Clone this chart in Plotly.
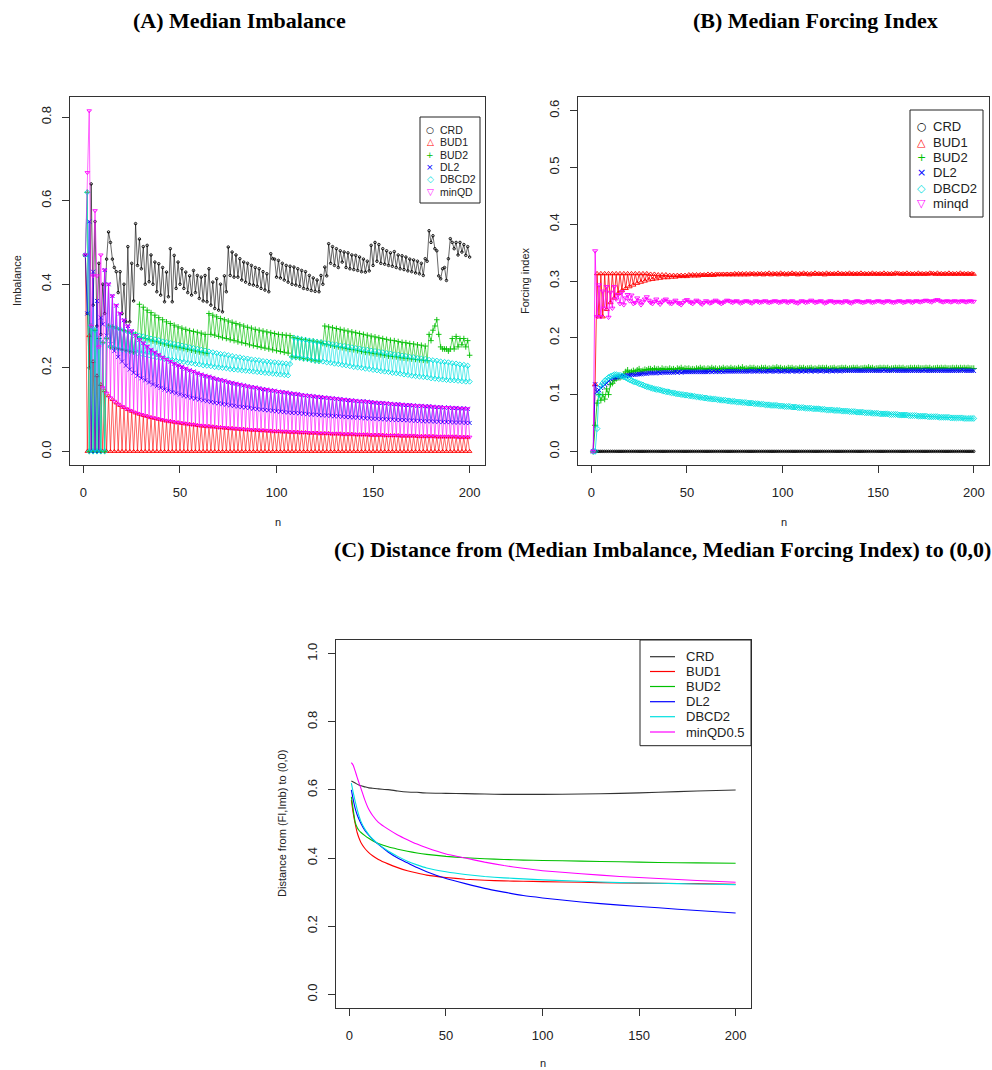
import plotly.graph_objects as go

W, H = 992, 1070

# ============ DATA ============
N_A = list(range(1, 201))
N_B = list(range(1, 201))

# ---- Panel A : Median Imbalance, values split into odd n (1,3,..,199) and even n (2,..,200)
A_CRD_ODD = [
    .470, .200, .350, .300, .280, .330, .525, .460, .430, .430,
    .400, .490, .450, .545, .508, .490, .493, .470, .453, .449,
    .440, .429, .485, .469, .453, .437, .429, .420, .433, .421,
    .417, .421, .437, .405, .413, .400, .420, .489, .477, .470,
    .461, .453, .450, .445, .440, .437, .430, .425, .473, .460,
    .457, .450, .445, .443, .441, .437, .433, .430, .421, .415,
    .410, .421, .441, .497, .490, .485, .480, .477, .475, .470,
    .469, .465, .460, .455, .493, .500, .495, .485, .480, .475,
    .478, .470, .468, .465, .460, .458, .455, .450, .461, .528,
    .516, .480, .413, .440, .461, .500, .500, .500, .495, .490]
A_CRD_EVEN = [
    .330, .640, .550, .450, .400, .460, .500, .440, .380, .330,
    .310, .310, .360, .445, .437, .400, .406, .400, .382, .374,
    .358, .370, .358, .390, .400, .390, .380, .374, .380, .366,
    .360, .358, .350, .342, .338, .334, .382, .421, .417, .417,
    .410, .405, .400, .398, .395, .390, .386, .382, .461, .417,
    .415, .410, .405, .400, .398, .395, .390, .388, .385, .383,
    .382, .400, .420, .450, .445, .440, .453, .440, .437, .435,
    .433, .430, .429, .432, .445, .455, .450, .448, .445, .443,
    .440, .437, .435, .432, .430, .427, .425, .421, .455, .500,
    .485, .420, .437, .409, .509, .485, .470, .477, .469, .465]

# shared imbalance levels seen as thick bands (|D|=1,2,3 levels)
LVL_D1_ODD = [
    .480, .277, .215, .181, .160, .145, .133, .124, .116, .110,
    .105, .100, .096, .092, .089, .086, .084, .081, .079, .077,
    .075, .073, .072, .070, .069, .067, .066, .065, .064, .062,
    .061, .060, .060, .059, .058, .057, .056, .055, .055, .054,
    .053, .053, .052, .051, .051, .050, .050, .049, .049, .048,
    .048, .047, .047, .046, .046, .046, .045, .045, .044, .044,
    .044, .043, .043, .043, .042, .042, .042, .041, .041, .041,
    .040, .040, .040, .040, .039, .039, .039, .039, .038, .038,
    .038, .038, .037, .037, .037, .037, .036, .036, .036, .036,
    .036, .035, .035, .035, .035, .035, .035, .034, .034, .034]
LVL_D1_EVEN = [
    .339, .240, .196, .170, .152, .139, .128, .120, .113, .107,
    .102, .098, .094, .091, .088, .085, .082, .080, .078, .076,
    .074, .072, .071, .069, .068, .067, .065, .064, .063, .062,
    .061, .060, .059, .058, .057, .057, .056, .055, .054, .054,
    .053, .052, .052, .051, .051, .050, .050, .049, .048, .048,
    .048, .047, .047, .046, .046, .045, .045, .045, .044, .044,
    .043, .043, .043, .042, .042, .042, .041, .041, .041, .041,
    .040, .040, .040, .039, .039, .039, .039, .038, .038, .038,
    .038, .037, .037, .037, .037, .037, .036, .036, .036, .036,
    .036, .035, .035, .035, .035, .035, .034, .034, .034, .034]
LVL_D2_EVEN = [
    .679, .480, .392, .339, .304, .277, .257, .240, .226, .215,
    .205, .196, .188, .181, .175, .170, .165, .160, .156, .152,
    .148, .145, .142, .139, .136, .133, .131, .128, .126, .124,
    .122, .120, .118, .116, .115, .113, .112, .110, .109, .107,
    .106, .105, .104, .102, .101, .100, .099, .098, .097, .096,
    .095, .094, .093, .092, .092, .091, .090, .089, .088, .088,
    .087, .086, .086, .085, .084, .084, .083, .082, .082, .081,
    .081, .080, .079, .079, .078, .078, .077, .077, .076, .076,
    .075, .075, .075, .074, .074, .073, .073, .072, .072, .072,
    .071, .071, .070, .070, .070, .069, .069, .069, .068, .068]
LVL_D3_ODD = [
    1.44, .831, .644, .544, .480, .434, .400, .372, .349, .330,
    .314, .300, .288, .277, .267, .259, .251, .243, .237, .231,
    .225, .220, .215, .210, .206, .202, .198, .194, .191, .187,
    .184, .181, .179, .176, .173, .171, .169, .166, .164, .162,
    .160, .158, .156, .154, .153, .151, .149, .148, .146, .145,
    .143, .142, .141, .139, .138, .137, .135, .134, .133, .132,
    .131, .130, .129, .128, .127, .126, .125, .124, .123, .122,
    .121, .120, .120, .119, .118, .117, .116, .116, .115, .114,
    .113, .113, .112, .111, .111, .110, .109, .109, .108, .108,
    .107, .106, .106, .105, .105, .104, .104, .103, .103, .102]

# early values (small n) of each design, overriding the level bands
A_BUD1_ODD_HEAD = [.470]
A_BUD1_EVEN = [
    0, 0, 0, 0, 0, 0, 0, 0, 0, 0,
    0, 0, 0, 0, 0, 0, 0, 0, 0, 0,
    0, 0, 0, 0, 0, 0, 0, 0, 0, 0,
    0, 0, 0, 0, 0, 0, 0, 0, 0, 0,
    0, 0, 0, 0, 0, 0, 0, 0, 0, 0,
    0, 0, 0, 0, 0, 0, 0, 0, 0, 0,
    0, 0, 0, 0, 0, 0, 0, 0, 0, 0,
    0, 0, 0, 0, 0, 0, 0, 0, 0, 0,
    0, 0, 0, 0, 0, 0, 0, 0, 0, 0,
    0, 0, 0, 0, 0, 0, 0, 0, 0, 0]
A_MIN_ODD_HEAD = [.470, .815, .420, .420, .470]
A_MIN_EVEN_HEAD = [.667, .300, .576, .250]
A_DL2_ODD_HEAD = [.470, .550, .430, .360, .320]
A_DL2_EVEN_HEAD = [.330, 0.0, 0.0, 0.0]

A_DBCD2_ODD = [
    .470, 0.0, 0.0, 0.0, 0.0, 0.0, .300, .298, .295, .292,
    .289, .286, .283, .280, .277, .275, .272, .270, .268, .266,
    .263, .261, .259, .257, .255, .253, .251, .249, .247, .245,
    .243, .241, .239, .237, .235, .233, .232, .230, .228, .226,
    .225, .223, .222, .220, .219, .218, .216, .215, .214, .213,
    .212, .211, .210, .209, .272, .270, .268, .267, .265, .264,
    .262, .261, .259, .258, .256, .255, .253, .252, .250, .249,
    .247, .246, .244, .243, .241, .240, .238, .237, .235, .234,
    .232, .231, .229, .228, .226, .225, .223, .222, .221, .219,
    .218, .217, .215, .214, .213, .211, .210, .208, .207, .205]
A_DBCD2_EVEN = [
    .620, .300, .290, .270, .260, .270, .250, .248, .246, .244,
    .242, .240, .238, .236, .234, .232, .230, .228, .226, .224,
    .222, .220, .219, .217, .215, .214, .212, .211, .209, .208,
    .206, .205, .204, .202, .201, .200, .199, .197, .196, .195,
    .194, .193, .192, .191, .190, .189, .188, .187, .186, .185,
    .184, .183, .182, .226, .225, .224, .222, .221, .219, .217,
    .216, .215, .213, .212, .210, .209, .207, .206, .204, .202,
    .201, .200, .198, .197, .195, .194, .192, .191, .190, .188,
    .187, .186, .184, .183, .181, .180, .179, .178, .177, .175,
    .174, .173, .172, .171, .170, .170, .169, .168, .167, .167]

A_BUD2_ODD = [
    .470, 0.0, 0.0, 0.0, 0.0, 0.0, .300, .298, .295, .292,
    .289, .286, .283, .280, .352, .345, .338, .332, .326, .320,
    .315, .310, .306, .302, .298, .295, .292, .289, .287, .285,
    .283, .280, .330, .326, .322, .318, .315, .312, .309, .306,
    .303, .300, .297, .295, .292, .290, .288, .286, .284, .282,
    .280, .279, .278, .277, .272, .270, .268, .267, .265, .264,
    .262, .261, .300, .298, .296, .294, .292, .290, .288, .286,
    .284, .282, .280, .278, .276, .274, .272, .270, .268, .266,
    .265, .263, .261, .260, .258, .257, .255, .254, .252, .280,
    .290, .315, .250, .245, .240, .270, .275, .270, .270, .265]
A_BUD2_EVEN = [
    .620, .300, .290, .270, .260, .270, .250, .248, .246, .244,
    .242, .240, .238, .275, .272, .270, .267, .264, .262, .259,
    .257, .254, .252, .250, .248, .246, .244, .242, .240, .238,
    .236, .234, .280, .278, .275, .272, .270, .267, .265, .262,
    .260, .258, .255, .253, .251, .249, .247, .245, .243, .241,
    .239, .237, .235, .226, .225, .224, .222, .221, .219, .217,
    .216, .258, .256, .254, .252, .250, .248, .246, .244, .243,
    .241, .239, .237, .236, .234, .233, .231, .230, .228, .227,
    .226, .224, .223, .222, .221, .220, .219, .218, .217, .265,
    .300, .280, .245, .245, .245, .245, .250, .255, .250, .230]

# ---- Panel B : Median Forcing Index, n = 1..200
B_CRD = [
    0, 0, 0, 0, 0, 0, 0, 0, 0, 0, 0, 0, 0, 0, 0, 0, 0, 0, 0, 0,
    0, 0, 0, 0, 0, 0, 0, 0, 0, 0, 0, 0, 0, 0, 0, 0, 0, 0, 0, 0,
    0, 0, 0, 0, 0, 0, 0, 0, 0, 0, 0, 0, 0, 0, 0, 0, 0, 0, 0, 0,
    0, 0, 0, 0, 0, 0, 0, 0, 0, 0, 0, 0, 0, 0, 0, 0, 0, 0, 0, 0,
    0, 0, 0, 0, 0, 0, 0, 0, 0, 0, 0, 0, 0, 0, 0, 0, 0, 0, 0, 0,
    0, 0, 0, 0, 0, 0, 0, 0, 0, 0, 0, 0, 0, 0, 0, 0, 0, 0, 0, 0,
    0, 0, 0, 0, 0, 0, 0, 0, 0, 0, 0, 0, 0, 0, 0, 0, 0, 0, 0, 0,
    0, 0, 0, 0, 0, 0, 0, 0, 0, 0, 0, 0, 0, 0, 0, 0, 0, 0, 0, 0,
    0, 0, 0, 0, 0, 0, 0, 0, 0, 0, 0, 0, 0, 0, 0, 0, 0, 0, 0, 0,
    0, 0, 0, 0, 0, 0, 0, 0, 0, 0, 0, 0, 0, 0, 0, 0, 0, 0, 0, 0]
B_BUD1 = [
    0.0, .118, .313, .237, .313, .237, .313, .250, .313, .262,
    .313, .270, .313, .278, .313, .283, .313, .287, .313, .290,
    .313, .293, .313, .296, .313, .298, .313, .300, .313, .302,
    .312, .303, .312, .304, .311, .305, .311, .306, .311, .306,
    .310, .307, .310, .307, .310, .308, .310, .308, .310, .308,
    .311, .309, .311, .309, .311, .309, .311, .310, .311, .310,
    .312, .310, .312, .310, .312, .311, .312, .311, .312, .311,
    .312, .311, .312, .311, .313, .311, .313, .311, .313, .311,
    .313, .311, .313, .312, .313, .311, .313, .312, .313, .311,
    .313, .312, .314, .311, .313, .312, .313, .311, .314, .312,
    .313, .311, .313, .312, .314, .312, .313, .311, .313, .312,
    .314, .312, .313, .311, .313, .312, .314, .312, .313, .312,
    .313, .311, .314, .312, .313, .312, .313, .312, .314, .312,
    .313, .312, .313, .312, .314, .312, .313, .312, .313, .312,
    .314, .312, .313, .312, .313, .312, .314, .312, .313, .312,
    .313, .312, .314, .312, .313, .312, .313, .312, .314, .313,
    .313, .312, .313, .312, .314, .312, .313, .312, .313, .312,
    .314, .312, .313, .312, .313, .312, .314, .313, .313, .312,
    .314, .312, .313, .312, .313, .312, .314, .312, .313, .312,
    .313, .312, .314, .312, .313, .312, .313, .312, .313, .312]
B_BUD2 = [
    0.0, .046, .085, .100, .090, .100, .092, .110, .100, .118,
    .120, .125, .128, .130, .130, .132, .135, .140, .143, .138,
    .140, .142, .140, .143, .145, .140, .142, .144, .143, .145,
    .145, .143, .146, .144, .145, .143, .146, .144, .145, .144,
    .146, .144, .145, .143, .146, .145, .147, .144, .146, .145,
    .146, .144, .145, .144, .146, .145, .147, .145, .146, .144,
    .146, .145, .147, .145, .146, .144, .146, .145, .147, .145,
    .146, .145, .147, .145, .146, .145, .147, .145, .148, .145,
    .146, .145, .147, .146, .147, .145, .146, .145, .147, .146,
    .147, .145, .146, .145, .147, .146, .148, .146, .147, .145,
    .146, .145, .147, .146, .147, .145, .146, .145, .147, .146,
    .147, .145, .146, .146, .147, .145, .146, .145, .147, .146,
    .147, .146, .147, .145, .146, .146, .147, .145, .146, .146,
    .147, .146, .147, .145, .146, .146, .147, .146, .147, .145,
    .146, .146, .147, .146, .148, .146, .147, .145, .146, .146,
    .147, .146, .147, .146, .147, .145, .146, .146, .147, .146,
    .147, .146, .147, .145, .146, .146, .147, .146, .147, .146,
    .147, .146, .146, .146, .147, .146, .147, .145, .146, .146,
    .147, .146, .147, .146, .147, .146, .146, .146, .147, .146,
    .147, .146, .147, .146, .147, .146, .147, .146, .146, .146]
B_DL2 = [
    0.0, .118, .105, .108, .112, .115, .118, .120, .124, .127,
    .129, .130, .130, .131, .132, .132, .133, .133, .134, .134,
    .135, .135, .135, .136, .136, .136, .137, .137, .137, .138,
    .138, .138, .138, .138, .139, .138, .139, .139, .139, .139,
    .139, .139, .139, .140, .139, .140, .139, .140, .140, .140,
    .140, .140, .140, .140, .140, .140, .140, .140, .140, .140,
    .140, .141, .140, .141, .140, .141, .140, .141, .140, .141,
    .141, .141, .141, .141, .141, .141, .141, .141, .141, .141,
    .141, .141, .141, .142, .141, .141, .141, .142, .141, .141,
    .141, .142, .141, .141, .142, .141, .141, .142, .141, .141,
    .142, .141, .141, .142, .141, .142, .141, .141, .142, .141,
    .142, .141, .142, .142, .141, .142, .141, .142, .142, .141,
    .142, .142, .141, .142, .142, .141, .142, .142, .142, .141,
    .142, .142, .142, .142, .142, .142, .142, .142, .142, .142,
    .142, .142, .142, .142, .142, .142, .142, .142, .142, .142,
    .142, .142, .143, .142, .142, .142, .142, .143, .142, .142,
    .142, .142, .142, .142, .142, .142, .142, .142, .142, .142,
    .142, .142, .142, .143, .142, .142, .142, .142, .142, .142,
    .142, .142, .142, .142, .142, .142, .142, .142, .142, .142,
    .142, .142, .142, .143, .142, .142, .142, .142, .142, .142]
B_DBCD2 = [
    0.0, 0.0, .040, .100, .115, .120, .124, .127, .130, .132,
    .133, .135, .135, .134, .134, .133, .131, .130, .128, .126,
    .125, .123, .122, .121, .119, .118, .117, .115, .114, .113,
    .112, .111, .110, .109, .109, .108, .107, .106, .105, .105,
    .104, .103, .103, .102, .101, .101, .100, .100, .099, .099,
    .098, .098, .097, .097, .096, .096, .095, .095, .094, .094,
    .093, .093, .092, .092, .092, .091, .091, .090, .090, .090,
    .089, .089, .088, .088, .088, .087, .087, .087, .086, .086,
    .086, .085, .085, .085, .084, .084, .084, .083, .083, .083,
    .082, .082, .082, .081, .081, .081, .081, .080, .080, .080,
    .079, .079, .079, .079, .078, .078, .078, .077, .077, .077,
    .077, .076, .076, .076, .076, .075, .075, .075, .075, .074,
    .074, .074, .073, .073, .073, .073, .072, .072, .072, .072,
    .071, .071, .071, .071, .070, .070, .070, .070, .069, .069,
    .069, .069, .068, .068, .068, .068, .067, .067, .067, .067,
    .066, .066, .066, .066, .066, .065, .065, .065, .065, .065,
    .064, .064, .064, .064, .064, .063, .063, .063, .063, .063,
    .062, .062, .062, .062, .062, .061, .061, .061, .061, .061,
    .061, .060, .060, .060, .060, .060, .060, .059, .059, .059,
    .059, .059, .059, .059, .058, .058, .058, .058, .058, .058]
B_MINQD = [
    0.0, .353, .237, .293, .237, .282, .252, .290, .236, .280,
    .252, .290, .268, .276, .260, .281, .258, .270, .276, .265,
    .275, .260, .262, .270, .265, .258, .263, .268, .272, .266,
    .262, .260, .264, .268, .262, .259, .263, .266, .268, .264,
    .261, .260, .263, .266, .262, .260, .258, .262, .265, .267,
    .264, .262, .260, .263, .266, .264, .261, .259, .262, .265,
    .263, .261, .262, .264, .266, .264, .262, .260, .262, .264,
    .266, .265, .263, .262, .264, .265, .263, .261, .262, .264,
    .265, .264, .262, .261, .263, .265, .264, .262, .263, .264,
    .265, .263, .262, .263, .264, .265, .264, .262, .263, .264,
    .265, .263, .262, .264, .265, .263, .262, .261, .263, .265,
    .264, .262, .263, .264, .266, .264, .262, .263, .264, .265,
    .263, .261, .262, .264, .265, .264, .262, .263, .264, .263,
    .262, .263, .265, .264, .262, .261, .263, .264, .265, .264,
    .263, .262, .263, .264, .265, .263, .262, .263, .264, .265,
    .264, .263, .262, .264, .265, .264, .263, .262, .263, .264,
    .265, .264, .262, .263, .264, .265, .263, .262, .264, .265,
    .264, .263, .264, .265, .266, .265, .264, .263, .265, .266,
    .267, .265, .264, .263, .264, .265, .264, .263, .264, .265,
    .264, .263, .264, .265, .264, .263, .264, .265, .264, .264]

# ---- Panel C : distance from (median FI, median imbalance) to (0,0)
C_N = [1, 2, 3, 4, 5, 6, 8, 10, 12, 15, 20, 25, 30, 35, 40, 50, 60, 70,
       80, 90, 100, 120, 140, 160, 180, 200]
C_CRD = [.626, .623, .620, .617, .614, .612, .609, .606, .605, .603, .601, .597, .594,
         .593, .591, .590, .589, .588, .587, .587, .587, .588, .590, .593, .597, .600]
C_BUD1 = [.570, .530, .500, .475, .458, .445, .428, .416, .407, .396, .383, .372, .363,
          .356, .350, .343, .338, .335, .333, .332, .331, .329, .327, .326, .325, .323]
C_BUD2 = [.580, .540, .505, .490, .481, .475, .466, .458, .451, .443, .433, .426, .420,
          .415, .411, .405, .401, .398, .396, .394, .393, .391, .389, .387, .386, .385]
C_DL2 = [.600, .570, .545, .527, .513, .501, .481, .467, .455, .440, .418, .400, .386,
         .372, .360, .340, .325, .311, .300, .290, .283, .271, .262, .254, .246, .239]
C_DBCD2 = [.620, .591, .566, .543, .523, .507, .485, .469, .456, .441, .421, .405, .391,
           .380, .371, .360, .352, .346, .342, .339, .336, .332, .328, .326, .324, .322]
C_MINQD = [.680, .672, .655, .637, .620, .604, .570, .543, .525, .505, .485, .468, .454,
           .441, .430, .412, .400, .388, .378, .370, .363, .354, .346, .340, .334, .329]

# ---- legend texts and styling tables
NAMES = ["CRD", "BUD1", "BUD2", "DL2", "DBCD2", "minQD"]
NAMES_B = ["CRD", "BUD1", "BUD2", "DL2", "DBCD2", "minqd"]
NAMES_C = ["CRD", "BUD1", "BUD2", "DL2", "DBCD2", "minQD0.5"]
COLORS = ["#000000", "#FF0000", "#00C000", "#0000FF", "#00E0E0", "#FF00FF"]
SYMBOLS = ["circle-open", "triangle-up-open", "cross-thin-open", "x-thin-open",
           "diamond-open", "triangle-down-open"]
GLYPHS = ["\u25CB", "\u25B3", "+", "\u00D7", "\u25C7", "\u25BD"]


# ============ helpers ============
def weave(odd, even):
    out = []
    for a, b in zip(odd, even):
        out += [a, b]
    return out


def with_head(head, level):
    return list(head) + list(level[len(head):])


A_SERIES = [
    weave(A_CRD_ODD, A_CRD_EVEN),
    weave(with_head(A_BUD1_ODD_HEAD, LVL_D1_ODD), A_BUD1_EVEN),
    weave(A_BUD2_ODD, A_BUD2_EVEN),
    weave(with_head(A_DL2_ODD_HEAD, LVL_D3_ODD), with_head(A_DL2_EVEN_HEAD, LVL_D2_EVEN)),
    weave(A_DBCD2_ODD, A_DBCD2_EVEN),
    weave(with_head(A_MIN_ODD_HEAD, LVL_D3_ODD), with_head(A_MIN_EVEN_HEAD, LVL_D1_EVEN)),
]
B_SERIES = [B_CRD, B_BUD1, B_BUD2, B_DL2, B_DBCD2, B_MINQD]
C_SERIES = [C_CRD, C_BUD1, C_BUD2, C_DL2, C_DBCD2, C_MINQD]

for s in A_SERIES + B_SERIES:
    if len(s) != 200:
        raise ValueError("series length %d" % len(s))
for s in C_SERIES:
    if len(s) != len(C_N):
        raise ValueError("C length")


def PX(x):
    return x / W


def PY(y):
    return 1 - y / H


fig = go.Figure()

# panel A
for i in range(6):
    fig.add_trace(go.Scatter(
        x=N_A, y=A_SERIES[i], mode="lines+markers", xaxis="x", yaxis="y",
        line=dict(color=COLORS[i], width=0.6),
        marker=dict(symbol=SYMBOLS[i], size=4 if i else 2.5, color=COLORS[i],
                    line=dict(color=COLORS[i], width=0.9)),
        hoverinfo="skip", showlegend=False))
# panel B
for i in range(6):
    fig.add_trace(go.Scatter(
        x=N_B, y=B_SERIES[i], mode="lines+markers", xaxis="x2", yaxis="y2",
        line=dict(color=COLORS[i], width=0.8),
        marker=dict(symbol=SYMBOLS[i], size=4.5 if i else 2.5, color=COLORS[i],
                    line=dict(color=COLORS[i], width=0.9)),
        hoverinfo="skip", showlegend=False))
# panel C
for i in range(6):
    fig.add_trace(go.Scatter(
        x=C_N, y=C_SERIES[i], mode="lines", xaxis="x3", yaxis="y3",
        line=dict(color=COLORS[i] if i else "#333333", width=1.1, shape="spline", smoothing=0.5),
        hoverinfo="skip", showlegend=False))

FONT = "Liberation Sans, Arial, sans-serif"
common = dict(showline=True, mirror=True, linecolor="#333333", linewidth=1,
              ticks="outside", ticklen=7, tickwidth=1, tickcolor="#333333",
              showgrid=False, zeroline=False,
              tickfont=dict(family=FONT, size=13, color="#222222"))
XR = [-6.96, 207.96]
XT = [0, 50, 100, 150, 200]

layout = dict(
    width=W, height=H, margin=dict(l=0, r=0, t=0, b=0),
    paper_bgcolor="white", plot_bgcolor="white", showlegend=False,
    xaxis=dict(domain=[PX(70), PX(485)], range=XR, tickvals=XT, anchor="y",
               ticklabelstandoff=8, **common),
    yaxis=dict(domain=[PY(465), PY(97)], range=[-0.0326, 0.848],
               tickvals=[0, .2, .4, .6, .8], tickformat=".1f", tickangle=-90,
               anchor="x", ticklabelstandoff=6, **common),
    xaxis2=dict(domain=[PX(578), PX(989)], range=XR, tickvals=XT, anchor="y2",
                ticklabelstandoff=8, **common),
    yaxis2=dict(domain=[PY(465), PY(97)], range=[-0.024, 0.624],
                tickvals=[0, .1, .2, .3, .4, .5, .6], tickformat=".1f", tickangle=-90,
                anchor="x2", ticklabelstandoff=6, **common),
    xaxis3=dict(domain=[PX(336), PX(751)], range=XR, tickvals=XT, anchor="y3",
                ticklabelstandoff=8, **common),
    yaxis3=dict(domain=[PY(1008), PY(640)], range=[-0.04, 1.04],
                tickvals=[0, .2, .4, .6, .8, 1.0], tickformat=".1f", tickangle=-90,
                anchor="x3", ticklabelstandoff=6, **common),
)
fig.update_layout(**layout)

ann = []
shapes = []
TFONT = dict(family="Liberation Serif, Times New Roman, serif", size=22, color="#000000")
ann.append(dict(text="<b>(A) Median Imbalance</b>", x=PX(239), y=PY(20), font=TFONT))
ann.append(dict(text="<b>(B) Median Forcing Index</b>", x=PX(815), y=PY(20), font=TFONT))
ann.append(dict(text="<b>(C) Distance from (Median Imbalance, Median Forcing Index) to (0,0)</b>",
                x=PX(662), y=PY(550), font=TFONT))

LFONT = dict(family=FONT, size=11, color="#222222")
ann.append(dict(text="Imbalance", x=PX(17), y=PY(281), textangle=-90, font=LFONT))
ann.append(dict(text="n", x=PX(278), y=PY(522), font=LFONT))
ann.append(dict(text="Forcing index", x=PX(525), y=PY(281), textangle=-90, font=LFONT))
ann.append(dict(text="n", x=PX(784), y=PY(522), font=LFONT))
ann.append(dict(text="Distance from (FI,Imb) to (0,0)", x=PX(282), y=PY(824), textangle=-90, font=LFONT))
ann.append(dict(text="n", x=PX(543), y=PY(1063), font=LFONT))

# legend A
shapes.append(dict(type="rect", xref="paper", yref="paper", x0=PX(420), x1=PX(480),
                   y0=PY(203), y1=PY(117), line=dict(color="#222222", width=1), fillcolor="white"))
for i, yy in enumerate([130, 142.3, 154.6, 166.9, 179.2, 191.5]):
    ann.append(dict(text=GLYPHS[i], x=PX(430), y=PY(yy),
                    font=dict(family="DejaVu Sans", size=9, color=COLORS[i])))
    ann.append(dict(text=NAMES[i], x=PX(438), y=PY(yy), xanchor="left",
                    font=dict(family=FONT, size=10.5, color="#222222")))
# legend B
shapes.append(dict(type="rect", xref="paper", yref="paper", x0=PX(910), x1=PX(983),
                   y0=PY(217), y1=PY(110), line=dict(color="#222222", width=1), fillcolor="white"))
for i, yy in enumerate([126.7, 142, 157.5, 172.7, 188, 203.3]):
    ann.append(dict(text=GLYPHS[i], x=PX(921.5), y=PY(yy),
                    font=dict(family="DejaVu Sans", size=11, color=COLORS[i])))
    ann.append(dict(text=NAMES_B[i], x=PX(931), y=PY(yy), xanchor="left",
                    font=dict(family=FONT, size=13, color="#222222")))
# legend C
shapes.append(dict(type="rect", xref="paper", yref="paper", x0=PX(640), x1=PX(751),
                   y0=PY(745.7), y1=PY(640), line=dict(color="#222222", width=1), fillcolor="white"))
for i, yy in enumerate([656.7, 671.5, 686.5, 701.7, 716.7, 732]):
    shapes.append(dict(type="line", xref="paper", yref="paper", x0=PX(650), x1=PX(675),
                       y0=PY(yy), y1=PY(yy),
                       line=dict(color=COLORS[i] if i else "#333333", width=1.2)))
    ann.append(dict(text=NAMES_C[i], x=PX(684), y=PY(yy), xanchor="left",
                    font=dict(family=FONT, size=13, color="#222222")))

for a in ann:
    a.setdefault("xref", "paper")
    a.setdefault("yref", "paper")
    a.setdefault("showarrow", False)
    a.setdefault("xanchor", "center")
    a.setdefault("yanchor", "middle")
fig.update_layout(annotations=ann, shapes=shapes)

fig.write_html("out.html", config={"displayModeBar": False},
               post_script="document.body.style.margin='0px';document.body.style.overflow='hidden';")
